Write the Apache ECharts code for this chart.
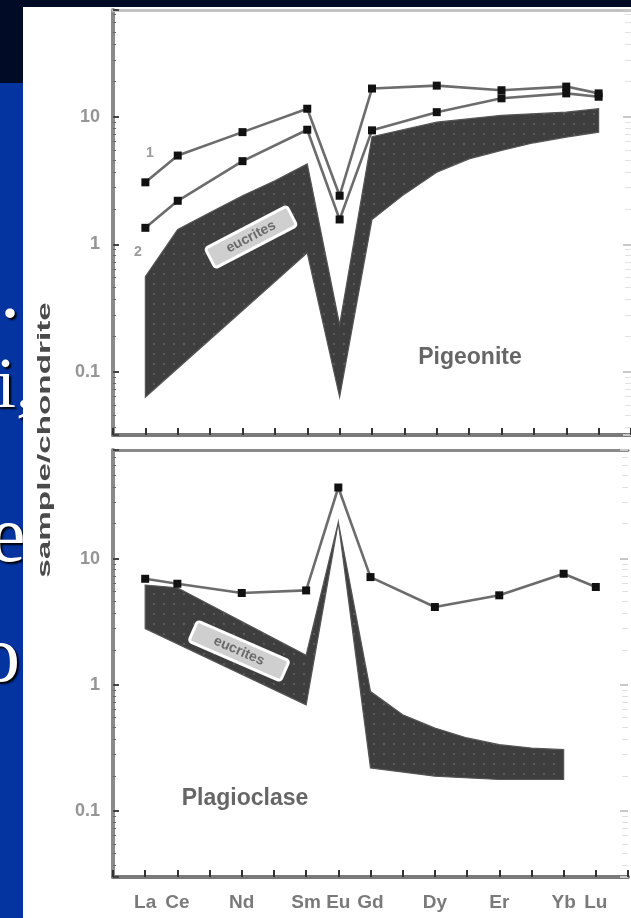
<!DOCTYPE html>
<html><head><meta charset="utf-8">
<script src="https://cdn.jsdelivr.net/npm/echarts@6/dist/echarts.min.js"></script>
<style>html,body{margin:0;padding:0;background:#0334a0;}#c{width:631px;height:918px;}</style>
</head><body><div id="c"></div>
<script>
// ---------- data ----------
const elements = ['La','Ce','Pr','Nd','Pm','Sm','Eu','Gd','Tb','Dy','Ho','Er','Tm','Yb','Lu'];
const elementTickLabels = ['La','Ce','','Nd','','Sm','Eu','Gd','','Dy','','Er','','Yb','Lu'];
const yTickLabels = { '-1': '0.1', '0': '1', '1': '10' };
const yAxisTitle = 'sample/chondrite';

// Pigeonite panel
const pigeonite1 = [['La',3.07],['Ce',4.98],['Nd',7.6],['Sm',11.6],['Eu',2.41],['Gd',16.7],['Dy',17.6],['Er',16.2],['Yb',17.3],['Lu',15.3]];
const pigeonite2 = [['La',1.35],['Ce',2.2],['Nd',4.5],['Sm',7.94],['Eu',1.57],['Gd',7.85],['Dy',10.9],['Er',14.0],['Yb',15.3],['Lu',14.4]];
const pigeoniteEucriteUpper = [['La',0.56],['Ce',1.31],['Pr',1.78],['Nd',2.41],['Pm',3.16],['Sm',4.28],['Eu',0.234],['Gd',7.0],['Dy',9.1],['Er',10.3],['Yb',10.9],['Lu',11.6]];
const pigeoniteEucriteLower = [['La',0.0635],['Sm',0.86],['Eu',0.0635],['Gd',1.57],['Tb',2.48],['Dy',3.68],['Ho',4.69],['Er',5.46],['Tm',6.27],['Yb',6.95],['Lu',7.6]];

// Plagioclase panel
const plagioclase = [['La',6.95],['Ce',6.35],['Nd',5.36],['Sm',5.62],['Eu',36.8],['Gd',7.17],['Dy',4.15],['Er',5.14],['Yb',7.62],['Lu',5.98]];
const plagioclaseEucriteUpper = [['La',6.2],['Ce',5.9],['Sm',1.72],['Eu',19.5],['Gd',0.886],['Tb',0.58],['Dy',0.455],['Ho',0.38],['Er',0.336],['Tm',0.316],['Yb',0.307]];
const plagioclaseEucriteLower = [['La',2.8],['Sm',0.695],['Eu',19.5],['Gd',0.22],['Dy',0.189],['Er',0.178],['Yb',0.178]];

const panelNames = ['Pigeonite','Plagioclase'];
const fieldName = 'eucrites';
const lineNames = ['1','2'];

// ---------- helpers ----------
const toXY = arr => arr.map(([e, v]) => [elements.indexOf(e), v]);

const pc = document.createElement('canvas');
pc.width = 10; pc.height = 10;
const g = pc.getContext('2d');
g.fillStyle = '#3e3e3e'; g.fillRect(0, 0, 10, 10);
g.fillStyle = '#5a5a5a'; g.fillRect(3, 3, 2, 2);
const bandFill = { image: pc, repeat: 'repeat' };

function bandSeries(upper, lower, gi) {
  const pts = toXY(upper).concat(toXY(lower).reverse());
  return {
    type: 'custom', xAxisIndex: gi * 2, yAxisIndex: gi * 2, silent: true, z: 1,
    data: [[0, 1]], encode: { x: 0, y: 1 },
    renderItem: (params, api) => ({
      type: 'polygon',
      shape: { points: pts.map(p => api.coord(p)) },
      style: { fill: bandFill, stroke: '#555', lineWidth: 1.2 }
    })
  };
}
function lineSeries(data, gi) {
  return {
    type: 'line', xAxisIndex: gi * 2, yAxisIndex: gi * 2, data: toXY(data), z: 5,
    symbol: 'rect', symbolSize: 8, showAllSymbol: true,
    itemStyle: { color: '#111' },
    lineStyle: { color: '#6c6c6c', width: 2.6 }
  };
}

const W = 524.5;
const grids = [
  { left: 113, top: 10, width: W, height: 425, ymin: 0.032, ymax: 69 },
  { left: 113, top: 450, width: W, height: 427, ymin: 0.030, ymax: 73 }
];

const xAxes = [], yAxes = [];
grids.forEach((gd, i) => {
  xAxes.push({
    gridIndex: i, type: 'value', min: -1, max: 15, interval: 1, position: 'bottom',
    axisLine: { show: true, onZero: false, lineStyle: { color: '#7a7a7a', width: 4 } },
    axisTick: { show: true, inside: true, length: 7, lineStyle: { color: '#333', width: 2 } },
    splitLine: { show: false },
    axisLabel: i === 1 ? {
      show: true, margin: 16, color: '#7a7a7a', fontSize: 19, fontWeight: 'bold', fontFamily: 'Liberation Sans',
      formatter: v => (v >= 0 && v < elements.length) ? elementTickLabels[v] : ''
    } : { show: false }
  });
  xAxes.push({
    gridIndex: i, type: 'value', min: -1, max: 15, interval: 1, position: 'top',
    axisLine: { show: true, onZero: false, lineStyle: { color: i === 0 ? '#c2c2c2' : '#8a8a8a', width: 3 } },
    axisTick: { show: false }, axisLabel: { show: false }, splitLine: { show: false }
  });
  yAxes.push({
    gridIndex: i, type: 'log', logBase: 10, min: gd.ymin, max: gd.ymax, position: 'left',
    axisLine: { show: true, onZero: false, lineStyle: { color: '#8a8a8a', width: 4 } },
    axisTick: { show: true, inside: true, length: 6, lineStyle: { color: '#444', width: 2 } },
    minorTick: { show: true, splitNumber: 10, length: 3, lineStyle: { color: '#666', width: 1 } },
    splitLine: { show: false },
    axisLabel: {
      show: true, margin: 13, color: '#959595', fontSize: 18, fontWeight: 'bold', fontFamily: 'Liberation Sans',
      showMinLabel: false, showMaxLabel: false,
      formatter: v => { const l = Math.log10(v); const r = Math.round(l); return Math.abs(l - r) < 1e-6 && yTickLabels[r] !== undefined ? yTickLabels[r] : ''; }
    }
  });
  yAxes.push({
    gridIndex: i, type: 'log', logBase: 10, min: gd.ymin, max: gd.ymax, position: 'right',
    axisLine: { show: false, onZero: false },
    axisTick: { show: true, inside: true, length: 8, lineStyle: { color: '#c8c8c8', width: 2 } },
    minorTick: { show: true, splitNumber: 10, length: 6, lineStyle: { color: '#e0e0e0', width: 1 } },
    splitLine: { show: false }, axisLabel: { show: false }
  });
});

const serif = 'Liberation Serif';
const slideText = (t, x, y, size) => ({ type: 'text', z: -19, x, y, style: { text: t, fill: '#fff', font: size + 'px ' + serif, textAlign: 'left', textVerticalAlign: 'bottom', verticalAlign: 'bottom', textShadowColor: '#000', textShadowOffsetX: 2, textShadowOffsetY: 2, textShadowBlur: 2 } });
const graphic = [
  { type: 'rect', z: -20, shape: { x: 0, y: 0, width: 631, height: 7 }, style: { fill: '#020b26' } },
  { type: 'rect', z: -20, shape: { x: 0, y: 0, width: 23, height: 83 }, style: { fill: '#020b26' } },
  slideText('.', 0, 336, 80),
  slideText('i,', -4, 424, 72),
  slideText('e', -10, 580, 80),
  slideText('o', -20, 700, 80),
  { type: 'rect', z: -18, shape: { x: 23, y: 7, width: 608, height: 911 }, style: { fill: '#fff' } },
  { type: 'text', z: 50, x: 45, y: 440, rotation: Math.PI / 2, scaleX: 1.85, style: { text: yAxisTitle, fill: '#4a4a4a', font: 'bold 18px Liberation Sans', textAlign: 'center', textVerticalAlign: 'middle', verticalAlign: 'middle' } },
  { type: 'text', z: 50, x: 470, y: 358, style: { text: panelNames[0], fill: '#666', font: 'bold 23px Liberation Sans', textAlign: 'center', textVerticalAlign: 'middle', verticalAlign: 'middle' } },
  { type: 'text', z: 50, x: 245, y: 799, style: { text: panelNames[1], fill: '#666', font: 'bold 23px Liberation Sans', textAlign: 'center', textVerticalAlign: 'middle', verticalAlign: 'middle' } },
  { type: 'text', z: 50, x: 150, y: 153, style: { text: lineNames[0], fill: '#9a9a9a', font: 'bold 14px Liberation Sans', textAlign: 'center', textVerticalAlign: 'middle', verticalAlign: 'middle' } },
  { type: 'text', z: 50, x: 138, y: 252, style: { text: lineNames[1], fill: '#9a9a9a', font: 'bold 14px Liberation Sans', textAlign: 'center', textVerticalAlign: 'middle', verticalAlign: 'middle' } },
  { type: 'group', z: 50, x: 251, y: 237, rotation: 0.48, children: [
    { type: 'rect', z: 50, shape: { x: -46, y: -11, width: 92, height: 22, r: 3 }, style: { fill: '#cfcfcf', stroke: '#fff', lineWidth: 3 } },
    { type: 'text', z: 51, style: { text: fieldName, x: 0, y: 0, fill: '#6a6a6a', font: 'bold 14px Liberation Sans', textAlign: 'center', textVerticalAlign: 'middle', verticalAlign: 'middle' } }
  ] },
  { type: 'group', z: 50, x: 239, y: 651, rotation: -0.41, children: [
    { type: 'rect', z: 50, shape: { x: -50, y: -11, width: 100, height: 22, r: 3 }, style: { fill: '#cfcfcf', stroke: '#fff', lineWidth: 3 } },
    { type: 'text', z: 51, style: { text: fieldName, x: 0, y: 0, fill: '#6a6a6a', font: 'bold 14px Liberation Sans', textAlign: 'center', textVerticalAlign: 'middle', verticalAlign: 'middle' } }
  ] }
];

const chart = echarts.init(document.getElementById('c'), null, { renderer: 'canvas', width: 631, height: 918 });
chart.setOption({
  animation: false,
  backgroundColor: '#0334a0',
  grid: grids.map(gd => ({ left: gd.left, top: gd.top, width: gd.width, height: gd.height, show: false })),
  xAxis: xAxes,
  yAxis: yAxes,
  series: [
    bandSeries(pigeoniteEucriteUpper, pigeoniteEucriteLower, 0),
    lineSeries(pigeonite1, 0),
    lineSeries(pigeonite2, 0),
    bandSeries(plagioclaseEucriteUpper, plagioclaseEucriteLower, 1),
    lineSeries(plagioclase, 1)
  ],
  graphic: graphic
});
</script></body></html>
